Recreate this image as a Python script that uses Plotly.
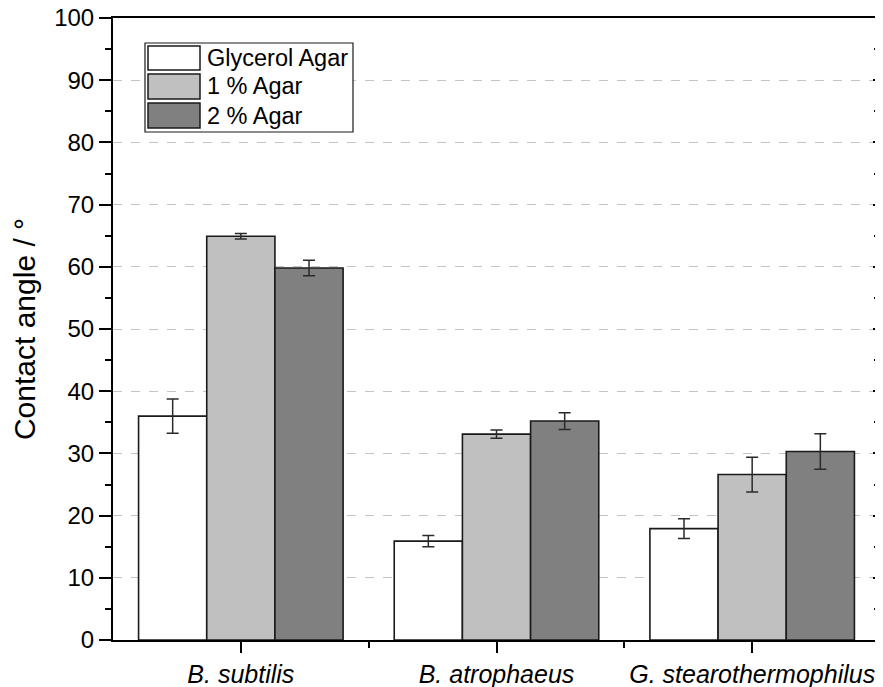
import plotly.graph_objects as go

categories = ["B. subtilis", "B. atrophaeus", "G. stearothermophilus"]
series_names = ["Glycerol Agar", "1 % Agar", "2 % Agar"]
glycerol = [36.0, 15.9, 17.9]
glycerol_err = [2.75, 0.9, 1.6]
agar1 = [64.9, 33.1, 26.6]
agar1_err = [0.45, 0.65, 2.8]
agar2 = [59.8, 35.2, 30.3]
agar2_err = [1.25, 1.35, 2.85]
colors = ["#ffffff", "#c0c0c0", "#808080"]
y_ticks = list(range(0, 101, 10))

x_idx = list(range(len(categories)))

fig = go.Figure()
for name, vals, errs, col in zip(series_names, [glycerol, agar1, agar2],
                                 [glycerol_err, agar1_err, agar2_err], colors):
    fig.add_trace(go.Bar(
        x=x_idx, y=vals, name=name,
        marker=dict(color=col, line=dict(color="#1a1a1a", width=1.6)),
        error_y=dict(type="data", array=errs, color="#2a2a2a", thickness=1.5, width=6),
        showlegend=False,
    ))

# helper invisible trace for right axis ticks
fig.add_trace(go.Scatter(x=[0], y=[0], yaxis="y2", mode="markers",
                         marker=dict(opacity=0), hoverinfo="skip", showlegend=False))

# page has an 8px body margin: figure starts at (8, 8)
OFF = 8
W, H = 883 - OFF, 687 - OFF
PL, PR, PT, PB = 113, 880, 18, 640  # plot area in page pixels
L, R, T, B = PL - OFF, (OFF + W) - PR, PT - OFF, (OFF + H) - PB

def px(xp):
    return (xp - PL) / (PR - PL)

def py(yp):
    return (PB - yp) / (PB - PT)

shapes = []
annotations = []
# legend box
shapes.append(dict(type="rect", xref="paper", yref="paper",
                   x0=px(145), x1=px(353), y0=py(132), y1=py(43),
                   line=dict(color="#1a1a1a", width=1.2), fillcolor="white", layer="above"))
rows = [(46, 70), (74, 99), (103, 128)]
for (y0, y1), name, col in zip(rows, series_names, colors):
    shapes.append(dict(type="rect", xref="paper", yref="paper",
                       x0=px(148), x1=px(200), y0=py(y1), y1=py(y0),
                       line=dict(color="#1a1a1a", width=1.5), fillcolor=col, layer="above"))
    annotations.append(dict(xref="paper", yref="paper", x=px(205), y=py((y0 + y1) / 2),
                            text=name, showarrow=False, xanchor="left", yanchor="middle",
                            font=dict(size=23.5, color="black", family="Liberation Sans, Arial")))

fig.update_layout(
    width=W, height=H,
    margin=dict(l=L, r=R, t=T, b=B, autoexpand=False),
    paper_bgcolor="white", plot_bgcolor="white",
    barmode="group", bargap=0.2, bargroupgap=0,
    font=dict(family="Liberation Sans, Arial", size=22, color="black"),
    shapes=shapes, annotations=annotations,
    xaxis=dict(
        range=[-0.5, 2.5], tickvals=x_idx,
        ticktext=["<i>" + c + "</i>" for c in categories],
        ticks="outside", ticklen=11, tickwidth=2, tickcolor="black",
        minor=dict(tickvals=[0.5, 1.5], ticks="outside", ticklen=6, tickwidth=2, tickcolor="black"),
        showline=True, linecolor="black", linewidth=2, mirror=True,
        showgrid=False, zeroline=False, automargin=False,
        tickfont=dict(size=25), ticklabeloverflow="allow",
    ),
    yaxis=dict(
        range=[0, 100], tickvals=y_ticks,
        ticks="outside", ticklen=12, tickwidth=2, tickcolor="black",
        minor=dict(dtick=5, ticks="outside", ticklen=6, tickwidth=2, tickcolor="black", showgrid=False),
        showline=True, linecolor="black", linewidth=2, mirror=True,
        showgrid=True, gridcolor="#c4c4c4", griddash="dash", gridwidth=1,
        zeroline=False, automargin=False,
        tickfont=dict(size=24), ticklabeloverflow="allow",
        title=dict(text="Contact angle / °", font=dict(size=30), standoff=20),
    ),
    yaxis2=dict(
        range=[0, 100], overlaying="y", side="right", tickvals=y_ticks,
        ticks="inside", ticklen=7, tickwidth=2, tickcolor="black",
        minor=dict(dtick=5, ticks="inside", ticklen=6, tickwidth=2, tickcolor="black", showgrid=False),
        showticklabels=False, showgrid=False, zeroline=False, showline=False, automargin=False,
    ),
)

fig.write_html("out.html")
